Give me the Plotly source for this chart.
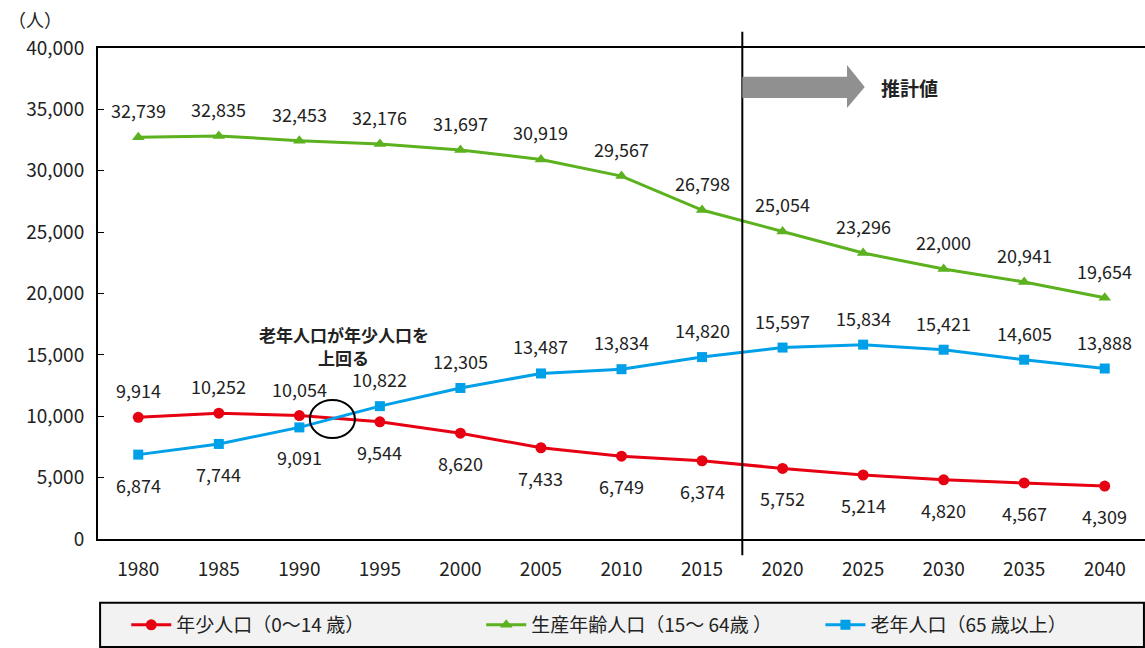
import plotly.graph_objects as go

years = ["1980", "1985", "1990", "1995", "2000", "2005", "2010", "2015",
         "2020", "2025", "2030", "2035", "2040"]
young = [9914, 10252, 10054, 9544, 8620, 7433, 6749, 6374, 5752, 5214, 4820, 4567, 4309]
working = [32739, 32835, 32453, 32176, 31697, 30919, 29567, 26798, 25054, 23296, 22000, 20941, 19654]
elderly = [6874, 7744, 9091, 10822, 12305, 13487, 13834, 14820, 15597, 15834, 15421, 14605, 13888]

young_pos = ["above", "above", "above"] + ["below"] * 10
working_pos = ["above"] * 13
elderly_pos = ["below", "below", "below"] + ["above"] * 10

names = ["年少人口（0～14 歳）", "生産年齢人口（15～ 64歳 ）", "老年人口（65 歳以上）"]
colors = ["#E60012", "#5BB11E", "#00A0E9"]
symbols = ["circle", "triangle-up", "square"]
legend_ids = ["legend", "legend2", "legend3"]
legend_x = [0.027, 0.366, 0.690]

FONT = "Noto Sans CJK JP"
TXT = "#222222"

fig = go.Figure()
for vals, name, col, sym, lg in zip([young, working, elderly], names, colors, symbols, legend_ids):
    fig.add_trace(go.Scatter(
        x=years, y=vals, name=name, mode="lines+markers", legend=lg,
        line=dict(color=col, width=3),
        marker=dict(symbol=sym, size=11 if sym != "square" else 10, color=col),
    ))

annotations = []
for vals, pos in [(young, young_pos), (working, working_pos), (elderly, elderly_pos)]:
    for i, (v, p) in enumerate(zip(vals, pos)):
        annotations.append(dict(
            x=i, y=v, xref="x", yref="y", text=f"{v:,}", showarrow=False,
            yshift=27 if p == "above" else -30,
            font=dict(family=FONT, size=18, color=TXT),
        ))

annotations.append(dict(
    x=2.55, y=16620, xref="x", yref="y", text="<b>老年人口が年少人口を</b>",
    showarrow=False, font=dict(family=FONT, size=17, color=TXT),
))
annotations.append(dict(
    x=2.55, y=14750, xref="x", yref="y", text="<b>上回る</b>",
    showarrow=False, font=dict(family=FONT, size=17, color=TXT),
))
annotations.append(dict(
    x=9.2, y=36823, xref="x", yref="y", text="<b>推計値</b>", showarrow=False,
    font=dict(family=FONT, size=19, color=TXT), xanchor="left",
))
annotations.append(dict(
    x=-0.06, y=1.06, xref="paper", yref="paper", text="（人）", showarrow=False,
    font=dict(family=FONT, size=18, color=TXT), xanchor="center", yanchor="middle",
))

shapes = [
    dict(type="line", xref="x", yref="paper", x0=7.5, x1=7.5, y0=-0.033, y1=1.033,
         line=dict(color="black", width=2)),
    dict(type="path", xref="x", yref="y",
         path="M 7.5 35930 L 8.8 35930 L 8.8 35110 L 9.02 36823 L 8.8 38615 L 8.8 37660 L 7.5 37660 Z",
         fillcolor="#909090", line=dict(width=0)),
    dict(type="circle", xref="x", yref="y", x0=2.13, x1=2.69, y0=8228, y1=11324,
         line=dict(color="black", width=2)),
    dict(type="rect", xref="paper", yref="paper", x0=0.002, x1=0.999, y0=-0.22, y1=-0.13,
         fillcolor="#F2F2F2", line=dict(color="black", width=2), layer="below"),
]

legend_common = dict(
    orientation="h", y=-0.175, xanchor="left", yanchor="middle",
    bgcolor="rgba(0,0,0,0)", font=dict(family=FONT, size=19, color=TXT), itemwidth=40,
)

fig.update_layout(
    width=1145, height=648,
    margin=dict(l=98, r=0, t=48, b=109, autoexpand=False),
    paper_bgcolor="white", plot_bgcolor="white",
    font=dict(family=FONT, size=18, color=TXT),
    showlegend=True,
    legend=dict(x=legend_x[0], **legend_common),
    legend2=dict(x=legend_x[1], **legend_common),
    legend3=dict(x=legend_x[2], **legend_common),
    xaxis=dict(
        type="category", range=[-0.5, 12.5], showline=True, linecolor="black", linewidth=2,
        mirror=True, ticks="", showgrid=False, tickfont=dict(size=19), ticklabelstandoff=12,
    ),
    yaxis=dict(
        range=[0, 40000], dtick=5000, tickformat=",", showline=True, linecolor="black",
        linewidth=2, ticks="inside", ticklen=6, tickcolor="black", showgrid=False,
        zeroline=False, tickfont=dict(size=19), ticklabelstandoff=8,
    ),
    annotations=annotations,
    shapes=shapes,
)

fig.write_html("out.html")
